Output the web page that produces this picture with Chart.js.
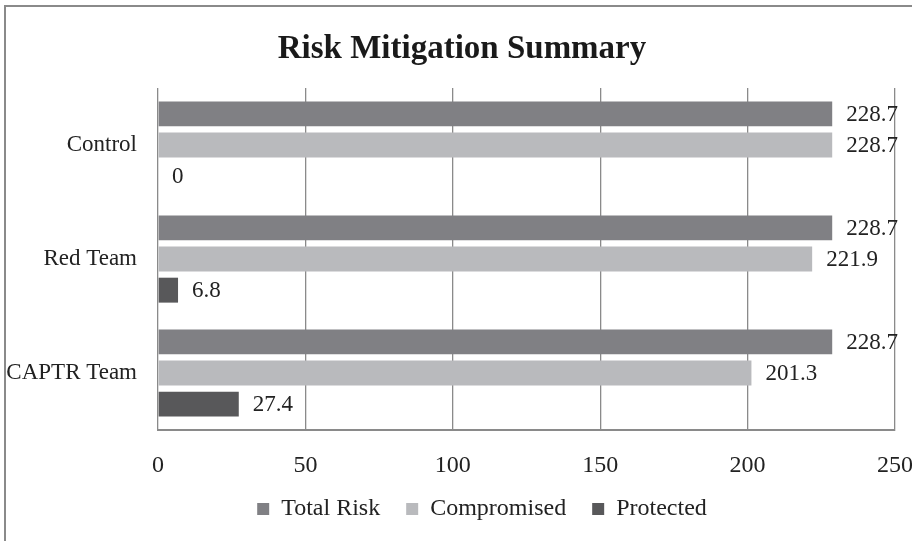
<!DOCTYPE html>
<html>
<head>
<meta charset="utf-8">
<script src="https://cdn.jsdelivr.net/npm/chart.js@4"></script>
<style>
  body { margin: 0; background: #fff; }
  #graphCanvas { display: block; }
</style>
</head>
<body>
<canvas id="graphCanvas" width="912" height="541"></canvas>
<script>
var categories = ['Control', 'Red Team', 'CAPTR Team'];
var totalRisk = [228.7, 228.7, 228.7];
var compromised = [228.7, 221.9, 201.3];
var protectedRisk = [0, 6.8, 27.4];
var xTicks = [0, 50, 100, 150, 200, 250];

var serif = "'Liberation Serif', 'Times New Roman', serif";

// outer frame of the figure (only left/top edges visible)
var framePlugin = {
  id: 'frame',
  beforeDraw: function(chart) {
    var ctx = chart.ctx;
    ctx.save();
    ctx.strokeStyle = '#8a8a8a';
    ctx.lineWidth = 2;
    ctx.strokeRect(5, 6, 1200, 1200);
    ctx.restore();
  }
};

// nudge title and legend like the original layout
var nudge = {
  id: 'nudge',
  afterLayout: function(chart) {
    var lg = chart.legend;
    lg.left += 26; lg.right += 26;
    lg.top -= 10; lg.bottom -= 10;
    var tb = chart.titleBlock;
    tb.left += 6; tb.right += 6;
  }
};

// value labels to the right of each bar
var valueLabels = {
  id: 'valueLabels',
  afterDatasetsDraw: function(chart) {
    var ctx = chart.ctx;
    ctx.save();
    ctx.font = "23px " + serif;
    ctx.fillStyle = '#222';
    ctx.textBaseline = 'middle';
    ctx.textAlign = 'left';
    chart.data.datasets.forEach(function(ds, i) {
      var meta = chart.getDatasetMeta(i);
      meta.data.forEach(function(bar, j) {
        ctx.fillText(String(ds.data[j]), bar.x + 14, bar.y + 1);
      });
    });
    ctx.restore();
  }
};

var graphTarget = document.getElementById('graphCanvas');
var barGraph = new Chart(graphTarget, {
  type: 'bar',
  data: {
    labels: categories,
    datasets: [
      { label: 'Total Risk', data: totalRisk, backgroundColor: '#808084' },
      { label: 'Compromised', data: compromised, backgroundColor: '#b9babd' },
      { label: 'Protected', data: protectedRisk, backgroundColor: '#58585a' }
    ]
  },
  options: {
    indexAxis: 'y',
    responsive: false,
    animation: false,
    datasets: { bar: { categoryPercentage: 0.82, barPercentage: 0.8 } },
    layout: { padding: { left: 0, right: 0, top: 0, bottom: 0 } },
    plugins: {
      title: {
        display: true,
        text: 'Risk Mitigation Summary',
        color: '#1a1a1a',
        font: { family: serif, size: 33, weight: 'bold' },
        padding: { top: 30, bottom: 18.4 }
      },
      legend: {
        position: 'bottom',
        labels: {
          boxWidth: 12,
          boxHeight: 12,
          padding: 26,
          color: '#222',
          font: { family: serif, size: 24 }
        }
      },
      tooltip: { enabled: false }
    },
    scales: {
      x: {
        min: 0,
        max: 250,
        afterBuildTicks: function(scale) {
          scale.ticks = xTicks.map(function(v) { return { value: v }; });
        },
        afterFit: function(scale) {
          scale.height = 51;
          scale.paddingLeft = 0;
          scale.paddingRight = 17;
        },
        grid: { color: '#8a8a8a', lineWidth: 1.3, drawTicks: false },
        border: { display: true, color: '#8a8a8a', width: 2 },
        ticks: { padding: 21, color: '#222', font: { family: serif, size: 24 } }
      },
      y: {
        afterFit: function(scale) { scale.width = 158; },
        grid: { display: false, drawTicks: false },
        border: { display: false },
        ticks: { padding: 21, color: '#222', font: { family: serif, size: 23 } }
      }
    }
  },
  plugins: [framePlugin, nudge, valueLabels]
});
</script>
</body>
</html>
